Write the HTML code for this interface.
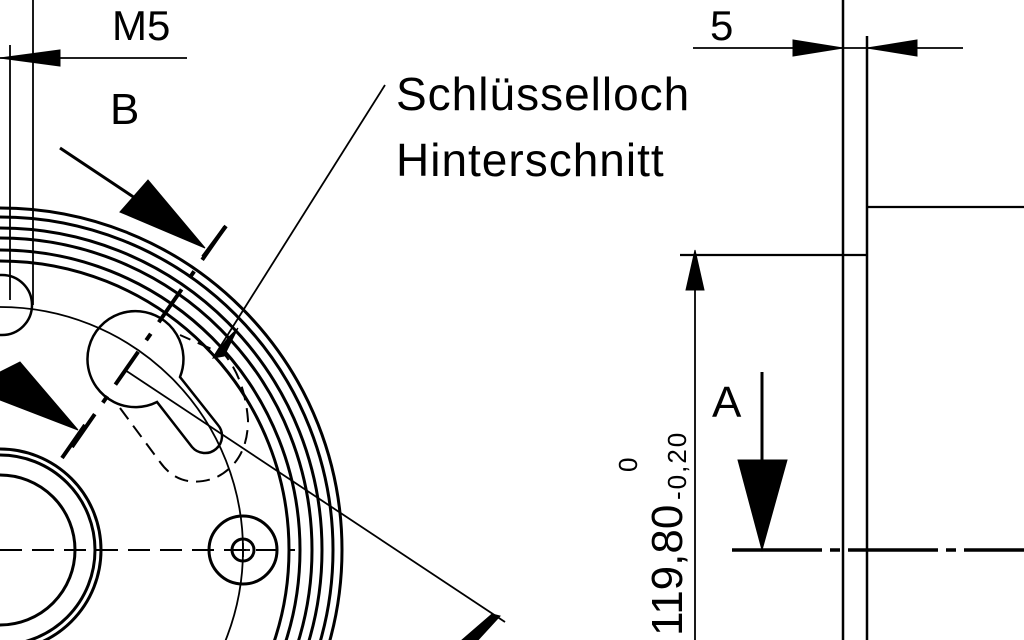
<!DOCTYPE html>
<html><head><meta charset="utf-8"><style>
html,body{margin:0;padding:0;background:#fff;width:1024px;height:640px;overflow:hidden;}
svg{display:block}
text{font-family:"Liberation Sans",sans-serif;fill:#000;}
</style></head><body>
<svg width="1024" height="640" viewBox="0 0 1024 640" xmlns="http://www.w3.org/2000/svg">
<g fill="none" stroke="#000" stroke-width="3">
  <circle cx="0" cy="550" r="342"/>
  <circle cx="0" cy="550" r="333"/>
  <circle cx="0" cy="550" r="322"/>
  <circle cx="0" cy="550" r="312"/>
  <circle cx="0" cy="550" r="300"/>
  <circle cx="0" cy="550" r="289"/>
  <circle cx="0" cy="550" r="75"/>
  <circle cx="0" cy="550" r="95"/>
  <circle cx="0" cy="550" r="101"/>
  <circle cx="243" cy="550" r="34"/>
  <circle cx="243" cy="550" r="11"/>
  <path d="M157,402 A48,48 0 1 1 180,377 L218,425 A14,14 0 0 1 192,447 Z" stroke-width="2.5"/>
  <circle cx="2" cy="305" r="30" stroke-width="2.5"/>
</g>
<g fill="none" stroke="#000" stroke-width="1.8">
  <circle cx="0" cy="550" r="243"/>
  <line x1="236" y1="550" x2="250" y2="550"/><line x1="243" y1="543" x2="243" y2="557"/>
  <line x1="10" y1="45" x2="10" y2="300"/>
  <line x1="33" y1="0" x2="33" y2="305"/>
  <line x1="0" y1="58" x2="187" y2="58"/>
  <line x1="385" y1="85" x2="215" y2="355"/>
  <line x1="125" y1="370" x2="505" y2="622"/>
  <line x1="843" y1="0" x2="843" y2="640" stroke-width="2.5"/>
  <line x1="867" y1="36" x2="867" y2="640" stroke-width="2.5"/>
  <line x1="693" y1="48" x2="963" y2="48"/>
  <line x1="680" y1="255" x2="867" y2="255" stroke-width="2.2"/>
  <line x1="867" y1="207" x2="1024" y2="207" stroke-width="2.2"/>
  <line x1="695" y1="255" x2="695" y2="640"/>
  <line x1="762" y1="372" x2="762" y2="460" stroke-width="3"/>
</g>
<g stroke="#000" fill="none">
  <line x1="0" y1="550" x2="295" y2="550" stroke-width="2" stroke-dasharray="22,10"/>
  <line x1="732" y1="550" x2="1024" y2="550" stroke-width="3.5" stroke-dasharray="90,8,10,8"/>
  <path d="M120,408 L160,462 Q180,490 215,478 Q248,462 248,420 Q245,380 225,355 L180,335" stroke-width="2" stroke-dasharray="14,8"/>
  <line x1="225" y1="227" x2="65" y2="457" stroke-width="4" stroke-dasharray="40,14,8,14"/>
</g>
<g fill="#000" stroke="#000">
  <line x1="60" y1="148" x2="135" y2="198" stroke-width="3"/>
  <polygon points="120,212 148,180 205,248"/>
  <line x1="203" y1="257" x2="226" y2="226" stroke-width="4"/>
  <polygon points="0,372 20,362 78,430 0,400"/>
  <line x1="62" y1="458" x2="85" y2="425" stroke-width="4"/>
  <polygon points="213,358 228,338 238,328 224,356"/>
  <polygon points="492,614 500,616 478,640 462,640"/>
  <polygon points="0,58 60,50 60,66"/>
  <polygon points="843,48 793,40 793,56"/>
  <polygon points="867,48 917,40 917,56"/>
  <polygon points="695,250 686,290 704,290"/>
  <polygon points="738,460 787,460 762,550"/>
</g>
<text x="112" y="40" font-size="42">M5</text>
<text x="110" y="124" font-size="44">B</text>
<text x="396" y="110" font-size="46" letter-spacing="1">Schlüsselloch</text>
<text x="396" y="176" font-size="46" letter-spacing="1">Hinterschnitt</text>
<text x="710" y="40" font-size="42">5</text>
<text x="712" y="417" font-size="44">A</text>
<g transform="translate(682,636) rotate(-90)"><text x="0" y="0" font-size="44">119,80</text></g>
<g transform="translate(686,500) rotate(-90)"><text x="0" y="0" font-size="26" letter-spacing="2">-0,20</text></g>
<g transform="translate(637,472) rotate(-90)"><text x="0" y="0" font-size="26">0</text></g>
</svg>
</body></html>
